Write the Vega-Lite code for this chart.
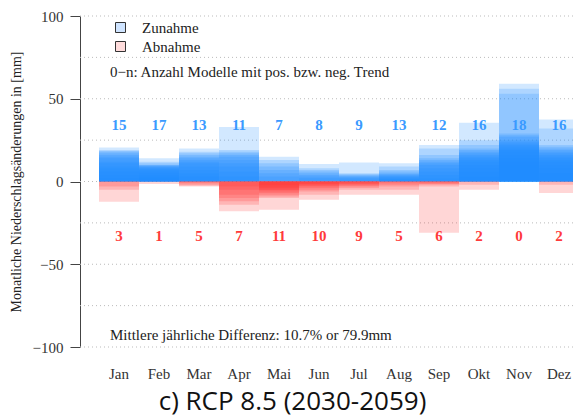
{
  "$schema": "https://vega.github.io/schema/vega-lite/v6.json",
  "width": 493,
  "height": 331,
  "autosize": {"type": "none"},
  "padding": {"left": 80, "top": 16, "right": 0, "bottom": 72},
  "background": "white",
  "title": {
    "text": "c) RCP 8.5 (2030-2059)",
    "orient": "bottom",
    "anchor": "middle",
    "offset": 8,
    "dx": -34,
    "font": "Open Sans",
    "fontSize": 26,
    "fontWeight": "normal",
    "color": "#111"
  },
  "datasets": {
    "modelle": [
      {"m":"Jan","v":20.5,"t":"Zunahme"},{"m":"Jan","v":19,"t":"Zunahme"},{"m":"Jan","v":18.5,"t":"Zunahme"},{"m":"Jan","v":18,"t":"Zunahme"},{"m":"Jan","v":17,"t":"Zunahme"},{"m":"Jan","v":16,"t":"Zunahme"},{"m":"Jan","v":15,"t":"Zunahme"},{"m":"Jan","v":14,"t":"Zunahme"},{"m":"Jan","v":12,"t":"Zunahme"},{"m":"Jan","v":11,"t":"Zunahme"},{"m":"Jan","v":9,"t":"Zunahme"},{"m":"Jan","v":8,"t":"Zunahme"},{"m":"Jan","v":6,"t":"Zunahme"},{"m":"Jan","v":4,"t":"Zunahme"},{"m":"Jan","v":2,"t":"Zunahme"},
      {"m":"Jan","v":-12.2,"t":"Abnahme"},{"m":"Jan","v":-5,"t":"Abnahme"},{"m":"Jan","v":-3,"t":"Abnahme"},
      {"m":"Feb","v":14,"t":"Zunahme"},{"m":"Feb","v":12,"t":"Zunahme"},{"m":"Feb","v":11,"t":"Zunahme"},{"m":"Feb","v":10,"t":"Zunahme"},{"m":"Feb","v":10,"t":"Zunahme"},{"m":"Feb","v":9.5,"t":"Zunahme"},{"m":"Feb","v":9,"t":"Zunahme"},{"m":"Feb","v":9,"t":"Zunahme"},{"m":"Feb","v":8.5,"t":"Zunahme"},{"m":"Feb","v":8,"t":"Zunahme"},{"m":"Feb","v":7.5,"t":"Zunahme"},{"m":"Feb","v":7,"t":"Zunahme"},{"m":"Feb","v":6,"t":"Zunahme"},{"m":"Feb","v":5,"t":"Zunahme"},{"m":"Feb","v":4,"t":"Zunahme"},{"m":"Feb","v":3,"t":"Zunahme"},{"m":"Feb","v":2,"t":"Zunahme"},
      {"m":"Feb","v":-1.5,"t":"Abnahme"},
      {"m":"Mar","v":20,"t":"Zunahme"},{"m":"Mar","v":18,"t":"Zunahme"},{"m":"Mar","v":17,"t":"Zunahme"},{"m":"Mar","v":16,"t":"Zunahme"},{"m":"Mar","v":15,"t":"Zunahme"},{"m":"Mar","v":14,"t":"Zunahme"},{"m":"Mar","v":13,"t":"Zunahme"},{"m":"Mar","v":12,"t":"Zunahme"},{"m":"Mar","v":11,"t":"Zunahme"},{"m":"Mar","v":9,"t":"Zunahme"},{"m":"Mar","v":7,"t":"Zunahme"},{"m":"Mar","v":5,"t":"Zunahme"},{"m":"Mar","v":3,"t":"Zunahme"},
      {"m":"Mar","v":-3,"t":"Abnahme"},{"m":"Mar","v":-2.5,"t":"Abnahme"},{"m":"Mar","v":-2,"t":"Abnahme"},{"m":"Mar","v":-1,"t":"Abnahme"},{"m":"Mar","v":-0.5,"t":"Abnahme"},
      {"m":"Apr","v":33,"t":"Zunahme"},{"m":"Apr","v":19,"t":"Zunahme"},{"m":"Apr","v":18,"t":"Zunahme"},{"m":"Apr","v":17,"t":"Zunahme"},{"m":"Apr","v":16,"t":"Zunahme"},{"m":"Apr","v":15,"t":"Zunahme"},{"m":"Apr","v":13,"t":"Zunahme"},{"m":"Apr","v":11,"t":"Zunahme"},{"m":"Apr","v":9,"t":"Zunahme"},{"m":"Apr","v":6,"t":"Zunahme"},{"m":"Apr","v":3,"t":"Zunahme"},
      {"m":"Apr","v":-18,"t":"Abnahme"},{"m":"Apr","v":-14,"t":"Abnahme"},{"m":"Apr","v":-12,"t":"Abnahme"},{"m":"Apr","v":-10,"t":"Abnahme"},{"m":"Apr","v":-8,"t":"Abnahme"},{"m":"Apr","v":-5,"t":"Abnahme"},{"m":"Apr","v":-3,"t":"Abnahme"},
      {"m":"Mai","v":15,"t":"Zunahme"},{"m":"Mai","v":13,"t":"Zunahme"},{"m":"Mai","v":11,"t":"Zunahme"},{"m":"Mai","v":9,"t":"Zunahme"},{"m":"Mai","v":7,"t":"Zunahme"},{"m":"Mai","v":5,"t":"Zunahme"},{"m":"Mai","v":3,"t":"Zunahme"},
      {"m":"Mai","v":-17,"t":"Abnahme"},{"m":"Mai","v":-10,"t":"Abnahme"},{"m":"Mai","v":-9,"t":"Abnahme"},{"m":"Mai","v":-8,"t":"Abnahme"},{"m":"Mai","v":-7,"t":"Abnahme"},{"m":"Mai","v":-6,"t":"Abnahme"},{"m":"Mai","v":-5,"t":"Abnahme"},{"m":"Mai","v":-5,"t":"Abnahme"},{"m":"Mai","v":-4,"t":"Abnahme"},{"m":"Mai","v":-3,"t":"Abnahme"},{"m":"Mai","v":-2,"t":"Abnahme"},
      {"m":"Jun","v":10.5,"t":"Zunahme"},{"m":"Jun","v":8,"t":"Zunahme"},{"m":"Jun","v":7,"t":"Zunahme"},{"m":"Jun","v":6,"t":"Zunahme"},{"m":"Jun","v":5,"t":"Zunahme"},{"m":"Jun","v":4,"t":"Zunahme"},{"m":"Jun","v":3,"t":"Zunahme"},{"m":"Jun","v":2,"t":"Zunahme"},
      {"m":"Jun","v":-11,"t":"Abnahme"},{"m":"Jun","v":-8,"t":"Abnahme"},{"m":"Jun","v":-6,"t":"Abnahme"},{"m":"Jun","v":-5,"t":"Abnahme"},{"m":"Jun","v":-4,"t":"Abnahme"},{"m":"Jun","v":-3,"t":"Abnahme"},{"m":"Jun","v":-2.5,"t":"Abnahme"},{"m":"Jun","v":-2,"t":"Abnahme"},{"m":"Jun","v":-1.5,"t":"Abnahme"},{"m":"Jun","v":-1,"t":"Abnahme"},
      {"m":"Jul","v":11.5,"t":"Zunahme"},{"m":"Jul","v":5,"t":"Zunahme"},{"m":"Jul","v":4.5,"t":"Zunahme"},{"m":"Jul","v":4,"t":"Zunahme"},{"m":"Jul","v":3.5,"t":"Zunahme"},{"m":"Jul","v":3,"t":"Zunahme"},{"m":"Jul","v":2.5,"t":"Zunahme"},{"m":"Jul","v":2,"t":"Zunahme"},{"m":"Jul","v":1,"t":"Zunahme"},
      {"m":"Jul","v":-8,"t":"Abnahme"},{"m":"Jul","v":-5,"t":"Abnahme"},{"m":"Jul","v":-4,"t":"Abnahme"},{"m":"Jul","v":-3,"t":"Abnahme"},{"m":"Jul","v":-2.5,"t":"Abnahme"},{"m":"Jul","v":-2,"t":"Abnahme"},{"m":"Jul","v":-1.5,"t":"Abnahme"},{"m":"Jul","v":-1,"t":"Abnahme"},{"m":"Jul","v":-0.5,"t":"Abnahme"},
      {"m":"Aug","v":11,"t":"Zunahme"},{"m":"Aug","v":9,"t":"Zunahme"},{"m":"Aug","v":7,"t":"Zunahme"},{"m":"Aug","v":6,"t":"Zunahme"},{"m":"Aug","v":5,"t":"Zunahme"},{"m":"Aug","v":4.5,"t":"Zunahme"},{"m":"Aug","v":4,"t":"Zunahme"},{"m":"Aug","v":3.5,"t":"Zunahme"},{"m":"Aug","v":3,"t":"Zunahme"},{"m":"Aug","v":2.5,"t":"Zunahme"},{"m":"Aug","v":2,"t":"Zunahme"},{"m":"Aug","v":1.5,"t":"Zunahme"},{"m":"Aug","v":1,"t":"Zunahme"},
      {"m":"Aug","v":-8,"t":"Abnahme"},{"m":"Aug","v":-5,"t":"Abnahme"},{"m":"Aug","v":-3,"t":"Abnahme"},{"m":"Aug","v":-2,"t":"Abnahme"},{"m":"Aug","v":-1,"t":"Abnahme"},
      {"m":"Sep","v":22,"t":"Zunahme"},{"m":"Sep","v":20,"t":"Zunahme"},{"m":"Sep","v":16,"t":"Zunahme"},{"m":"Sep","v":14,"t":"Zunahme"},{"m":"Sep","v":13,"t":"Zunahme"},{"m":"Sep","v":12,"t":"Zunahme"},{"m":"Sep","v":11,"t":"Zunahme"},{"m":"Sep","v":10,"t":"Zunahme"},{"m":"Sep","v":8,"t":"Zunahme"},{"m":"Sep","v":6,"t":"Zunahme"},{"m":"Sep","v":4,"t":"Zunahme"},{"m":"Sep","v":2,"t":"Zunahme"},
      {"m":"Sep","v":-31,"t":"Abnahme"},{"m":"Sep","v":-3,"t":"Abnahme"},{"m":"Sep","v":-2,"t":"Abnahme"},{"m":"Sep","v":-1.5,"t":"Abnahme"},{"m":"Sep","v":-1,"t":"Abnahme"},{"m":"Sep","v":-0.5,"t":"Abnahme"},
      {"m":"Okt","v":35.5,"t":"Zunahme"},{"m":"Okt","v":25,"t":"Zunahme"},{"m":"Okt","v":22,"t":"Zunahme"},{"m":"Okt","v":20,"t":"Zunahme"},{"m":"Okt","v":19,"t":"Zunahme"},{"m":"Okt","v":18,"t":"Zunahme"},{"m":"Okt","v":17,"t":"Zunahme"},{"m":"Okt","v":16,"t":"Zunahme"},{"m":"Okt","v":15,"t":"Zunahme"},{"m":"Okt","v":14,"t":"Zunahme"},{"m":"Okt","v":13,"t":"Zunahme"},{"m":"Okt","v":12,"t":"Zunahme"},{"m":"Okt","v":10,"t":"Zunahme"},{"m":"Okt","v":8,"t":"Zunahme"},{"m":"Okt","v":6,"t":"Zunahme"},{"m":"Okt","v":3,"t":"Zunahme"},
      {"m":"Okt","v":-5,"t":"Abnahme"},{"m":"Okt","v":-2,"t":"Abnahme"},
      {"m":"Nov","v":59,"t":"Zunahme"},{"m":"Nov","v":56,"t":"Zunahme"},{"m":"Nov","v":53,"t":"Zunahme"},{"m":"Nov","v":29,"t":"Zunahme"},{"m":"Nov","v":28,"t":"Zunahme"},{"m":"Nov","v":27,"t":"Zunahme"},{"m":"Nov","v":25,"t":"Zunahme"},{"m":"Nov","v":24,"t":"Zunahme"},{"m":"Nov","v":23,"t":"Zunahme"},{"m":"Nov","v":22,"t":"Zunahme"},{"m":"Nov","v":21,"t":"Zunahme"},{"m":"Nov","v":20,"t":"Zunahme"},{"m":"Nov","v":19,"t":"Zunahme"},{"m":"Nov","v":18,"t":"Zunahme"},{"m":"Nov","v":16,"t":"Zunahme"},{"m":"Nov","v":14,"t":"Zunahme"},{"m":"Nov","v":12,"t":"Zunahme"},{"m":"Nov","v":10,"t":"Zunahme"},
      {"m":"Dez","v":37.5,"t":"Zunahme"},{"m":"Dez","v":32,"t":"Zunahme"},{"m":"Dez","v":22,"t":"Zunahme"},{"m":"Dez","v":21,"t":"Zunahme"},{"m":"Dez","v":20,"t":"Zunahme"},{"m":"Dez","v":19,"t":"Zunahme"},{"m":"Dez","v":18,"t":"Zunahme"},{"m":"Dez","v":17,"t":"Zunahme"},{"m":"Dez","v":16,"t":"Zunahme"},{"m":"Dez","v":15,"t":"Zunahme"},{"m":"Dez","v":14,"t":"Zunahme"},{"m":"Dez","v":13,"t":"Zunahme"},{"m":"Dez","v":12,"t":"Zunahme"},{"m":"Dez","v":10,"t":"Zunahme"},{"m":"Dez","v":8,"t":"Zunahme"},{"m":"Dez","v":5,"t":"Zunahme"},
      {"m":"Dez","v":-7,"t":"Abnahme"},{"m":"Dez","v":-2,"t":"Abnahme"}
    ],
    "anzahl": [
      {"m":"Jan","pos":15,"neg":3},{"m":"Feb","pos":17,"neg":1},{"m":"Mar","pos":13,"neg":5},{"m":"Apr","pos":11,"neg":7},
      {"m":"Mai","pos":7,"neg":11},{"m":"Jun","pos":8,"neg":10},{"m":"Jul","pos":9,"neg":9},{"m":"Aug","pos":13,"neg":5},
      {"m":"Sep","pos":12,"neg":6},{"m":"Okt","pos":16,"neg":2},{"m":"Nov","pos":18,"neg":0},{"m":"Dez","pos":16,"neg":2}
    ],
    "gitter": [{"g":-100},{"g":-75},{"g":-50},{"g":-25},{"g":0},{"g":25},{"g":50},{"g":75},{"g":100}]
  },
  "layer": [
    {
      "data": {"name": "gitter"},
      "mark": {"type": "rule", "color": "#bbbbbb", "strokeWidth": 1, "strokeDash": [1, 3]},
      "encoding": {
        "y": {
          "field": "g", "type": "quantitative",
          "scale": {"domain": [-100, 100], "nice": false, "zero": false},
          "axis": {
            "title": "Monatliche Niederschlagsänderungen in [mm]",
            "values": [-100, -50, 0, 50, 100],
            "grid": false,
            "tickSize": 10, "tickColor": "#444", "domainColor": "#444",
            "labelFont": "Liberation Serif", "labelFontSize": 15, "labelColor": "#333", "labelPadding": 7,
            "titleFont": "Liberation Serif", "titleFontSize": 14, "titleFontWeight": "normal", "titleColor": "#222", "titlePadding": 9
          }
        }
      }
    },
    {
      "data": {"name": "modelle"},
      "mark": {"type": "bar", "clip": true, "fillOpacity": 0.2, "strokeWidth": 0},
      "encoding": {
        "x": {
          "field": "m", "type": "nominal",
          "scale": {"domain": ["Jan","Feb","Mar","Apr","Mai","Jun","Jul","Aug","Sep","Okt","Nov","Dez"], "range": [0, 518], "paddingInner": 0, "paddingOuter": 0.475},
          "axis": {"title": null, "domain": false, "ticks": false, "labelAngle": 0, "labelPadding": 19, "labelFont": "Liberation Serif", "labelFontSize": 15, "labelColor": "#333"}
        },
        "y": {"field": "v", "type": "quantitative", "stack": null},
        "fill": {
          "field": "t", "type": "nominal",
          "scale": {"domain": ["Zunahme", "Abnahme"], "range": ["#1e8cff", "#ff3030"]},
          "legend": null
        }
      }
    },
    {
      "data": {"name": "modelle"},
      "mark": {"type": "square", "size": 0, "opacity": 1, "filled": true, "clip": true},
      "encoding": {
        "x": {"field": "m", "type": "nominal"},
        "y": {"field": "v", "type": "quantitative"},
        "fill": {
          "field": "t", "type": "nominal",
          "scale": {"domain": ["Zunahme", "Abnahme"], "range": ["#cfe4ff", "#ffdcdc"]},
          "legend": {
            "title": null, "orient": "none", "legendX": 33, "legendY": 4,
            "symbolType": "square", "symbolSize": 100, "symbolStrokeColor": "#333", "symbolStrokeWidth": 1, "symbolOpacity": 1,
            "labelFont": "Liberation Serif", "labelFontSize": 15, "labelColor": "#222", "labelOffset": 14, "rowPadding": 3
          }
        }
      }
    },
    {
      "data": {"name": "anzahl"},
      "mark": {"type": "text", "font": "Liberation Serif", "fontSize": 15, "fontWeight": "bold", "color": "#3a9aff", "baseline": "middle"},
      "encoding": {
        "x": {"field": "m", "type": "nominal"},
        "y": {"datum": 34},
        "text": {"field": "pos"}
      }
    },
    {
      "data": {"name": "anzahl"},
      "mark": {"type": "text", "font": "Liberation Serif", "fontSize": 15, "fontWeight": "bold", "color": "#ff3b3b", "baseline": "middle"},
      "encoding": {
        "x": {"field": "m", "type": "nominal"},
        "y": {"datum": -33},
        "text": {"field": "neg"}
      }
    },
    {
      "data": {"values": [{"txt": "0−n: Anzahl Modelle mit pos. bzw. neg. Trend"}]},
      "mark": {"type": "text", "font": "Liberation Serif", "fontSize": 15, "color": "#222", "align": "left", "baseline": "middle", "dx": -9},
      "encoding": {
        "x": {"datum": "Jan"},
        "y": {"datum": 66},
        "text": {"field": "txt"}
      }
    },
    {
      "data": {"values": [{"txt": "Mittlere jährliche Differenz: 10.7% or 79.9mm"}]},
      "mark": {"type": "text", "font": "Liberation Serif", "fontSize": 15, "color": "#222", "align": "left", "baseline": "middle", "dx": -9},
      "encoding": {
        "x": {"datum": "Jan"},
        "y": {"datum": -93},
        "text": {"field": "txt"}
      }
    }
  ],
  "resolve": {"scale": {"fill": "independent"}, "legend": {"fill": "independent"}},
  "config": {"view": {"stroke": null}, "font": "Liberation Serif"}
}
